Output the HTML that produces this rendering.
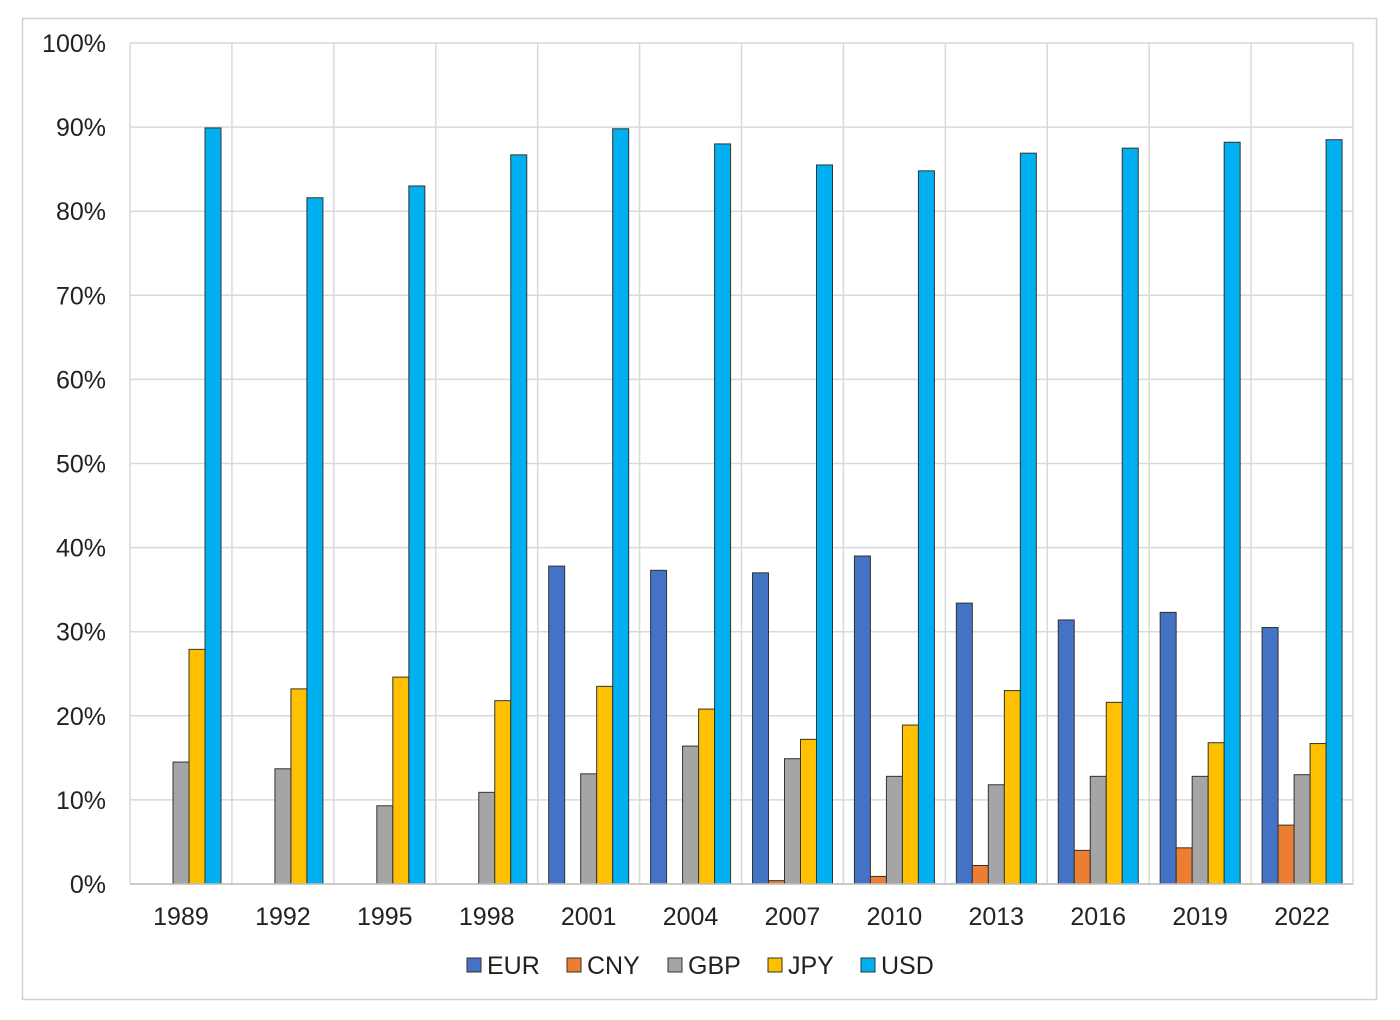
<!DOCTYPE html>
<html><head><meta charset="utf-8"><style>body{margin:0;background:#fff}svg{display:block}text{font-family:"Liberation Sans",Arial,sans-serif;fill:#222}</style></head>
<body>
<svg width="1400" height="1020" xmlns="http://www.w3.org/2000/svg">
<rect x="0" y="0" width="1400" height="1020" fill="#fff"/>
<rect x="22.5" y="18.5" width="1354" height="981" fill="none" stroke="#d0d0d0" stroke-width="1.5"/>
<g id="g"></g>
</svg>
<script>
const svg=document.querySelector('#g');const NS='http://www.w3.org/2000/svg';
function el(t,a,txt){const e=document.createElementNS(NS,t);for(const k in a)e.setAttribute(k,a[k]);if(txt!==undefined)e.textContent=txt;svg.appendChild(e);return e;}
const x0=130,x1=1353,y0=884,y100=43,gw=(x1-x0)/12,sc=(y0-y100)/100;
for(let i=0;i<=10;i++){const y=y0-i*10*sc;el('line',{x1:x0,x2:x1,y1:y,y2:y,stroke:'#d9d9d9','stroke-width':1.5});
el('text',{x:106,y:y+9,'text-anchor':'end','font-size':25},i*10+'%');}
for(let i=0;i<=12;i++){const x=x0+i*gw;el('line',{x1:x,x2:x,y1:y100,y2:y0,stroke:'#d9d9d9','stroke-width':1.5});}
const years=[1989,1992,1995,1998,2001,2004,2007,2010,2013,2016,2019,2022];
const d=[[0,0,14.5,27.9,89.9],[0,0,13.7,23.2,81.6],[0,0,9.3,24.6,83],[0,0,10.9,21.8,86.7],[37.8,0,13.1,23.5,89.8],[37.3,0,16.4,20.8,88],[37,0.4,14.9,17.2,85.5],[39,0.9,12.8,18.9,84.8],[33.4,2.2,11.8,23,86.9],[31.4,4,12.8,21.6,87.5],[32.3,4.3,12.8,16.8,88.2],[30.5,7,13,16.7,88.5]];
const cols=['#4472C4','#ED7D31','#A5A5A5','#FFC000','#00B0F0'];
years.forEach((yr,i)=>{const gx=x0+i*gw;d[i].forEach((v,j)=>{if(v<=0)return;const h=v*sc;el('rect',{x:gx+11+j*16,y:y0-h,width:16,height:h,fill:cols[j],stroke:'#333','stroke-width':1});});
el('text',{x:gx+gw/2,y:925,'text-anchor':'middle','font-size':25},yr);});
el('line',{x1:x0,x2:x1,y1:y0,y2:y0,stroke:'#bfbfbf','stroke-width':1.5});
const names=['EUR','CNY','GBP','JPY','USD'];const lx=[467,567,668,768,861];
names.forEach((n,j)=>{el('rect',{x:lx[j],y:958,width:14,height:14,fill:cols[j],stroke:'#333','stroke-width':1});el('text',{x:lx[j]+20,y:974,'font-size':25},n);});
</script>
</body></html>
